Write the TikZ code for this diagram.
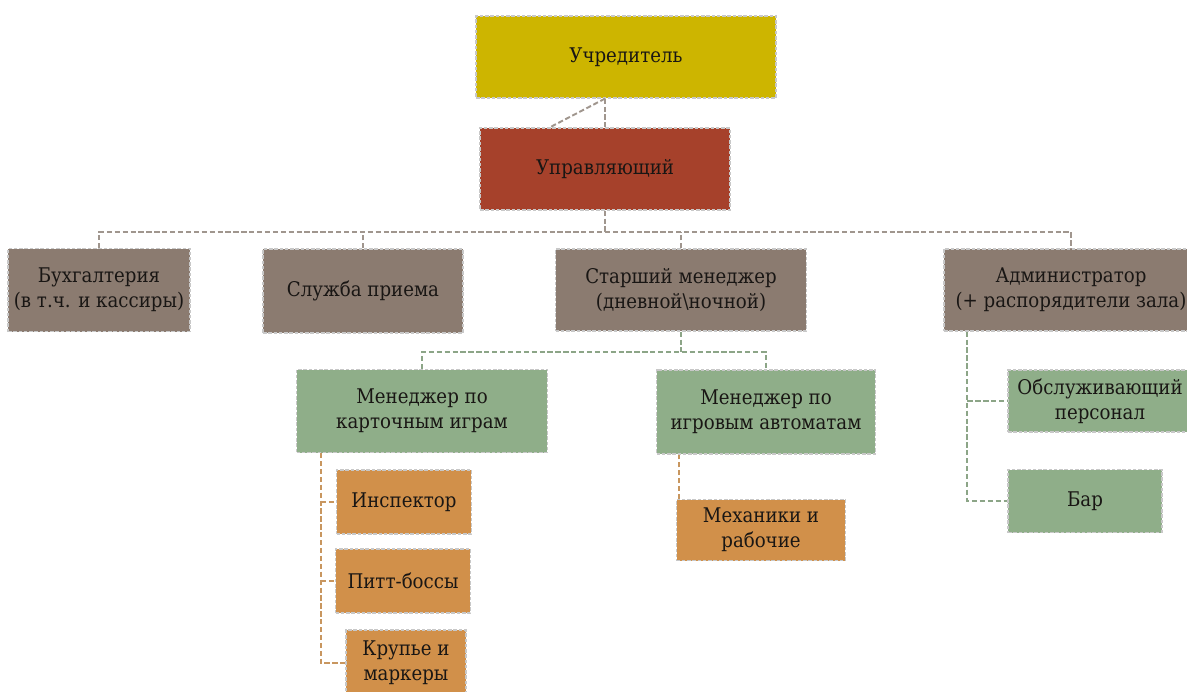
\documentclass[tikz,border=0pt]{standalone}
\usepackage{fontspec}
\setmainfont{DejaVu Serif}[FakeStretch=0.9]
\usepackage{xcolor}
\usepackage{tikz}
\usetikzlibrary{calc,positioning}
\definecolor{founderYellow}{RGB}{205,181,0}
\definecolor{managerRed}{RGB}{166,65,43}
\definecolor{deptBrown}{RGB}{139,123,112}
\definecolor{sageGreen}{RGB}{143,174,137}
\definecolor{ochre}{RGB}{209,144,74}
\definecolor{linkGray}{RGB}{160,150,142}
\definecolor{linkGreen}{RGB}{140,165,135}
\definecolor{linkOchre}{RGB}{200,150,95}
\definecolor{edgeGray}{RGB}{200,200,200}
\definecolor{txt}{RGB}{25,22,20}

\tikzset{
  unit/.style={draw=edgeGray, line width=0.7pt, dash pattern=on 2pt off 1pt,
    align=center, inner sep=1pt, text=txt,
    font=\fontsize{11.5}{14.2}\selectfont},
  link/.style={line width=1.1pt, dash pattern=on 3pt off 1.5pt}
}

\begin{document}
\begin{tikzpicture}[x=0.02cm,y=-0.02cm]
    \useasboundingbox (0,0) rectangle (1187,691);

    % top
    \node[unit, fill=founderYellow, minimum width=6cm, minimum height=1.64cm] (uchr) at (626,57) {Учредитель};
    \node[unit, fill=managerRed, minimum width=5cm, minimum height=1.64cm] (upr) at (605,169) {Управляющий};

    % departments
    \node[unit, fill=deptBrown, minimum width=3.64cm, minimum height=1.66cm] (buh) at (99,290) {Бухгалтерия\\(в т.ч. и кассиры)};
    \node[unit, fill=deptBrown, minimum width=4cm, minimum height=1.68cm] (sluzh) at (363,291) {Служба приема};
    \node[unit, fill=deptBrown, minimum width=5.02cm, minimum height=1.64cm] (starsh) at (681,290) {Старший менеджер\\(дневной\textbackslash ночной)};
    \node[unit, fill=deptBrown, minimum width=5.08cm, minimum height=1.64cm] (admin) at (1071,290) {Администратор\\(+ распорядители зала)};

    % managers
    \node[unit, fill=sageGreen, minimum width=5.02cm, minimum height=1.66cm] (kart) at (422,411) {Менеджер по\\карточным играм};
    \node[unit, fill=sageGreen, minimum width=4.38cm, minimum height=1.68cm] (avt) at (766,412) {Менеджер по\\игровым автоматам};

    % card staff
    \node[unit, fill=ochre, minimum width=2.7cm, minimum height=1.28cm] (insp) at (404,502) {Инспектор};
    \node[unit, fill=ochre, minimum width=2.7cm, minimum height=1.28cm] (pitt) at (403,581) {Питт-боссы};
    \node[unit, fill=ochre, minimum width=2.4cm, minimum height=1.32cm] (krup) at (406,663) {Крупье и\\маркеры};

    % slot staff
    \node[unit, fill=ochre, minimum width=3.38cm, minimum height=1.22cm] (mech) at (761,530) {Механики и\\рабочие};

    % hall staff
    \node[unit, fill=sageGreen, minimum width=3.68cm, minimum height=1.24cm] (obsl) at (1100,401) {Обслуживающий\\персонал};
    \node[unit, fill=sageGreen, minimum width=3.08cm, minimum height=1.26cm] (bar) at (1085,501) {Бар};

    % founder to manager
    \draw[link, linkGray] (upr.north |- uchr.south) -- (upr.north);
    \draw[link, linkGray] (upr.north |- uchr.south) -- ($(upr.north west)!0.28!(upr.north east)$);

    % manager to departments
    \coordinate (bus) at (0,232);
    \draw[link, linkGray] (upr.south) -- (upr.south |- bus);
    \draw[link, linkGray] (buh.north) -- (buh.north |- bus) -- (admin.north |- bus) -- (admin.north);
    \draw[link, linkGray] (sluzh.north) -- (sluzh.north |- bus);
    \draw[link, linkGray] (starsh.north) -- (starsh.north |- bus);

    % senior manager to managers
    \coordinate (mbus) at (0,352);
    \draw[link, linkGreen] (starsh.south) -- (starsh.south |- mbus);
    \draw[link, linkGreen] (kart.north) -- (kart.north |- mbus) -- (avt.north |- mbus) -- (avt.north);

    % card games branch
    \coordinate (kl) at ($(kart.south west)+(25,0)$);
    \draw[link, linkOchre] (kl) |- (krup.west);
    \draw[link, linkOchre] (kl |- insp.west) -- (insp.west);
    \draw[link, linkOchre] (kl |- pitt.west) -- (pitt.west);

    % slot machines branch
    \coordinate (mt) at ($(mech.north west)+(3,0)$);
    \draw[link, linkOchre] (mt) -- (mt |- avt.south);

    % administrator branch
    \coordinate (al) at ($(admin.south west)+(24,0)$);
    \draw[link, linkGreen] (al) |- (bar.west);
    \draw[link, linkGreen] (al |- obsl.west) -- (obsl.west);
\end{tikzpicture}
\end{document}
